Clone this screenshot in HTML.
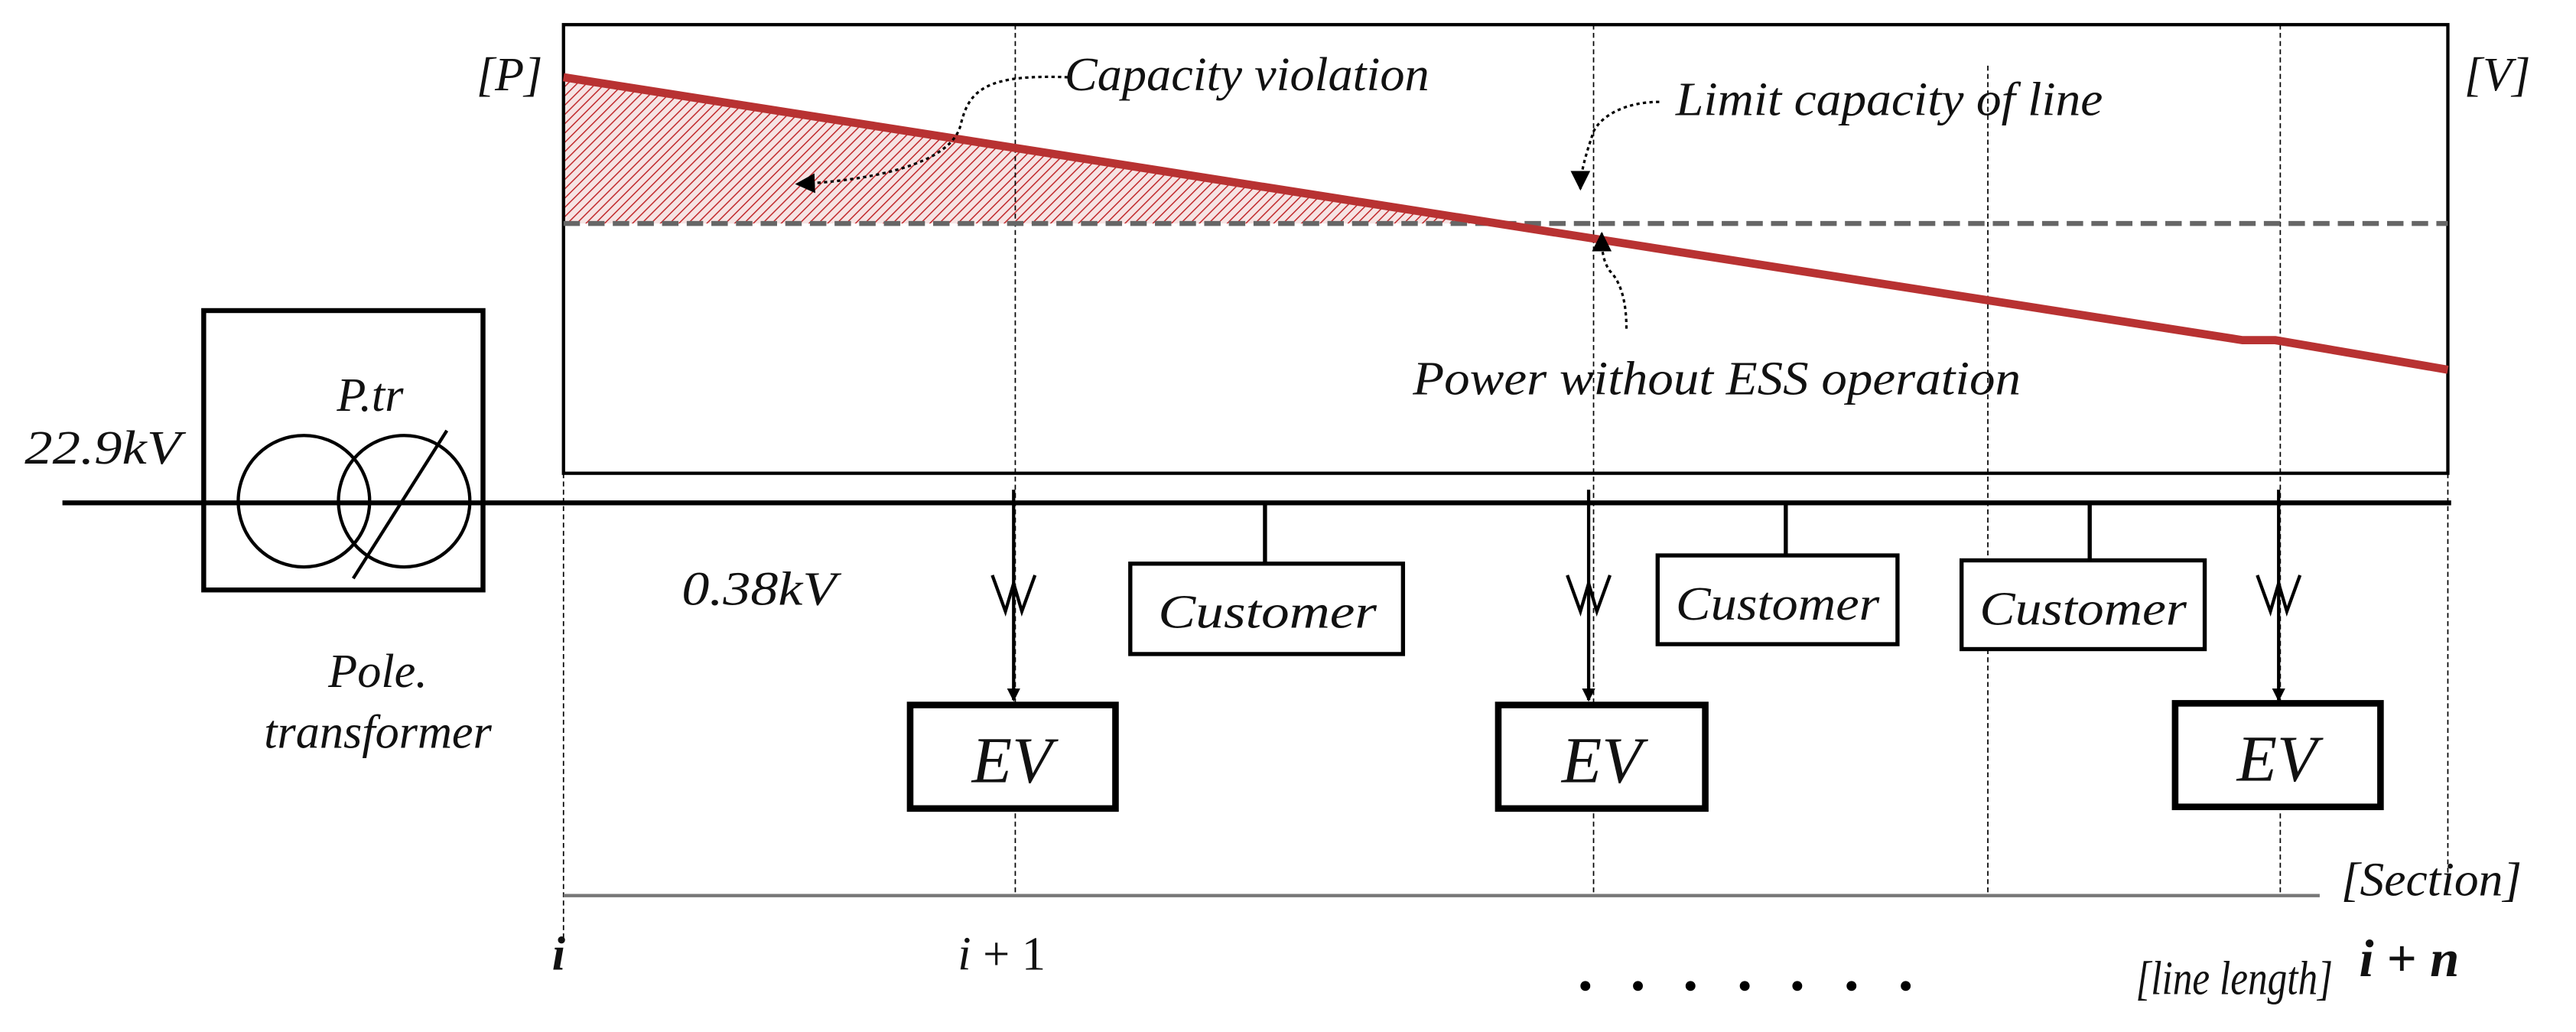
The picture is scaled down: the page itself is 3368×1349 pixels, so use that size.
<!DOCTYPE html>
<html><head><meta charset="utf-8"><style>
html,body{margin:0;padding:0;background:#fff;}
svg{display:block;}
text{font-family:"Liberation Serif",serif;font-style:italic;fill:#111;}
</style></head><body>
<svg width="3368" height="1349" viewBox="0 0 1568 628" preserveAspectRatio="none">
<defs>
<pattern id="h" width="4" height="4" patternUnits="userSpaceOnUse" patternTransform="rotate(45)">
<rect width="4" height="4" fill="#f6e4e4"/><line x1="0" y1="0" x2="0" y2="4" stroke="#c0282b" stroke-width="1.4"/>
</pattern>
<marker id="a" markerWidth="8" markerHeight="8" refX="7" refY="4" orient="auto" markerUnits="userSpaceOnUse"><path d="M0,0 L8,4 L0,8 z" fill="#000"/></marker>
<marker id="b" markerWidth="12" markerHeight="12" refX="11" refY="6" orient="auto" markerUnits="userSpaceOnUse"><path d="M0,0 L12,6 L0,12 z" fill="#000"/></marker>
</defs>
<polygon points="343,47 905,136 343,136" fill="url(#h)"/>
<rect x="343" y="15" width="1147" height="273" fill="none" stroke="#000" stroke-width="2"/>
<g stroke="#000" stroke-width="0.8" stroke-dasharray="3,2">
<line x1="343" y1="288" x2="343" y2="572"/>
<line x1="618" y1="15" x2="618" y2="545"/>
<line x1="970" y1="15" x2="970" y2="545"/>
<line x1="1210" y1="40" x2="1210" y2="545"/>
<line x1="1388" y1="15" x2="1388" y2="545"/>
<line x1="1490" y1="288" x2="1490" y2="535"/>
</g>
<line x1="343" y1="545" x2="1412" y2="545" stroke="#777" stroke-width="2"/>
<line x1="343" y1="136" x2="1490" y2="136" stroke="#666" stroke-width="3" stroke-dasharray="10,5"/>
<polyline points="343,47 1365,207 1385,207 1490,225" fill="none" stroke="#b83232" stroke-width="5"/>
<path d="M650,47 C600,45 590,55 585,75 C580,100 530,110 485,112" fill="none" stroke="#000" stroke-width="1.5" stroke-dasharray="2,2" marker-end="url(#b)"/>
<path d="M1010,62 C990,62 975,70 970,80 C965,95 962,105 962,115" fill="none" stroke="#000" stroke-width="1.5" stroke-dasharray="2,2" marker-end="url(#b)"/>
<path d="M990,200 C990,180 985,170 980,165 C975,158 975,150 975,142" fill="none" stroke="#000" stroke-width="1.5" stroke-dasharray="2,2" marker-end="url(#b)"/>
<text x="648" y="55" font-size="29" textLength="222" lengthAdjust="spacingAndGlyphs">Capacity violation</text>
<text x="1020" y="70" font-size="29" textLength="260" lengthAdjust="spacingAndGlyphs">Limit capacity of line</text>
<text x="860" y="240" font-size="29" textLength="370" lengthAdjust="spacingAndGlyphs">Power without ESS operation</text>
<text x="290" y="55" font-size="29">[P]</text>
<text x="1500" y="55" font-size="29">[V]</text>
<line x1="38" y1="306" x2="1492" y2="306" stroke="#000" stroke-width="3"/>
<rect x="124" y="189" width="170" height="170" fill="none" stroke="#000" stroke-width="3"/>
<circle cx="185" cy="305" r="40" fill="none" stroke="#000" stroke-width="2"/>
<circle cx="246" cy="305" r="40" fill="none" stroke="#000" stroke-width="2"/>
<line x1="272" y1="262" x2="215" y2="352" stroke="#000" stroke-width="2"/>
<text x="205" y="250" font-size="29">P.tr</text>
<text x="15" y="282" font-size="29" textLength="95" lengthAdjust="spacingAndGlyphs">22.9kV</text>
<text x="415" y="368" font-size="29" textLength="94" lengthAdjust="spacingAndGlyphs">0.38kV</text>
<text x="230" y="418" font-size="29" text-anchor="middle">Pole.</text>
<text x="230" y="455" font-size="29" text-anchor="middle">transformer</text>
<g stroke="#000" stroke-width="2.5" fill="#fff">
<line x1="770" y1="306" x2="770" y2="343"/>
<line x1="1087" y1="306" x2="1087" y2="338"/>
<line x1="1272" y1="306" x2="1272" y2="341"/>
<rect x="688" y="343" width="166" height="55"/>
<rect x="1009" y="338" width="146" height="54"/>
<rect x="1194" y="341" width="148" height="54"/>
</g>
<text x="705" y="382" font-size="29" textLength="133" lengthAdjust="spacingAndGlyphs">Customer</text>
<text x="1020" y="377" font-size="29" textLength="124" lengthAdjust="spacingAndGlyphs">Customer</text>
<text x="1205" y="380" font-size="29" textLength="126" lengthAdjust="spacingAndGlyphs">Customer</text>
<g stroke="#000" stroke-width="2">
<line x1="617" y1="298" x2="617" y2="426" marker-end="url(#a)"/>
<line x1="967" y1="298" x2="967" y2="426" marker-end="url(#a)"/>
<line x1="1387" y1="298" x2="1387" y2="426" marker-end="url(#a)"/>
<polyline points="604,350 612,372 617,355 622,372 630,350" fill="none"/>
<polyline points="954,350 962,372 967,355 972,372 980,350" fill="none"/>
<polyline points="1374,350 1382,372 1387,355 1392,372 1400,350" fill="none"/>
</g>
<g stroke="#000" stroke-width="4" fill="#fff">
<rect x="554" y="429" width="125" height="63"/>
<rect x="912" y="429" width="126" height="63"/>
<rect x="1324" y="428" width="125" height="63"/>
</g>
<text x="616" y="476" font-size="40" text-anchor="middle">EV</text>
<text x="975" y="476" font-size="40" text-anchor="middle">EV</text>
<text x="1386" y="475" font-size="40" text-anchor="middle">EV</text>
<text x="336" y="590" font-size="29" font-weight="bold">i</text>
<text x="583" y="590" font-size="29">i <tspan font-style="normal">+ 1</tspan></text>
<g fill="#000"><circle cx="965" cy="600" r="3"/><circle cx="997" cy="600" r="3"/><circle cx="1029" cy="600" r="3"/><circle cx="1062" cy="600" r="3"/><circle cx="1094" cy="600" r="3"/><circle cx="1127" cy="600" r="3"/><circle cx="1160" cy="600" r="3"/></g>
<text x="1425" y="545" font-size="29" textLength="110" lengthAdjust="spacingAndGlyphs">[Section]</text>
<text x="1300" y="605" font-size="29" textLength="120" lengthAdjust="spacingAndGlyphs">[line length]</text>
<text x="1436" y="594" font-size="32" font-weight="bold">i <tspan font-style="normal">+</tspan> n</text>
</svg>
</body></html>
